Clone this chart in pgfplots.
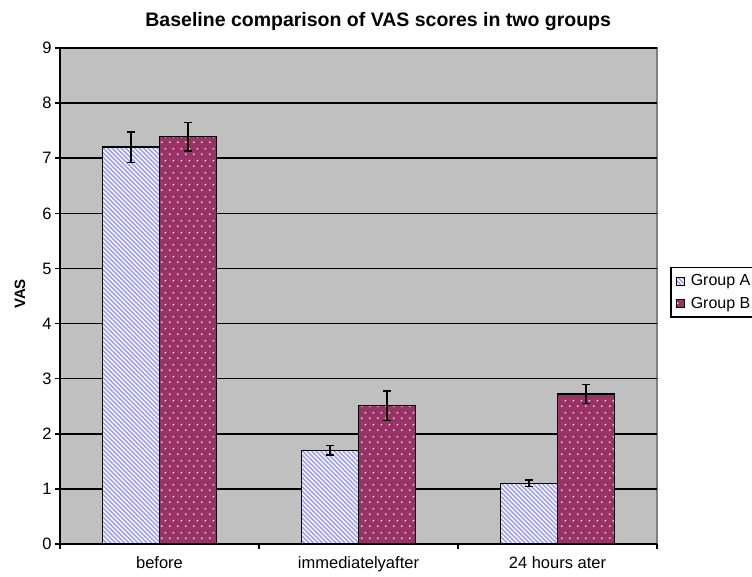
\documentclass[border=0pt]{standalone}
\usepackage{fontspec}
\setmainfont{Liberation Sans}
\usepackage{pgfplots}
\pgfplotsset{compat=1.18}
\usetikzlibrary{patterns}
\definecolor{bggray}{RGB}{192,192,192}
\definecolor{lav}{RGB}{160,160,248}
\definecolor{maroon}{RGB}{153,51,102}
\definecolor{dotc}{RGB}{240,215,232}
\pgfdeclarepatternformonly{nwl}{\pgfqpoint{-1pt}{-1pt}}{\pgfqpoint{5.5pt}{5.5pt}}{\pgfqpoint{4.5pt}{4.5pt}}{%
  \pgfsetlinewidth{1.5pt}%
  \pgfpathmoveto{\pgfqpoint{0pt}{4.5pt}}%
  \pgfpathlineto{\pgfqpoint{4.6pt}{-0.1pt}}%
  \pgfusepath{stroke}}
\pgfdeclarepatternformonly{sdots}{\pgfqpoint{0pt}{0pt}}{\pgfqpoint{8pt}{12pt}}{\pgfqpoint{8pt}{12pt}}{%
  \pgfpathcircle{\pgfqpoint{2pt}{3pt}}{1.1pt}%
  \pgfpathcircle{\pgfqpoint{6pt}{9pt}}{1.1pt}%
  \pgfusepath{fill}}
\pgfplotstableread{
x  a    aerr  b    berr
0  7.2  0.28  7.39 0.26
1  1.7  0.085 2.51 0.27
2  1.1  0.06  2.72 0.17
}\vasdata
\begin{document}
\begin{tikzpicture}[x=1pt,y=1pt]
\path[use as bounding box] (0,0) rectangle (752,576);
\begin{axis}[
  at={(60pt,32pt)}, anchor=south west,
  scale only axis, width=597pt, height=496pt,
  ybar=0pt, bar width=57pt,
  xmin=-0.5, xmax=2.5, ymin=0, ymax=9,
  ytick={0,1,2,3,4,5,6,7,8,9},
  xtick={-0.5,0.5,1.5,2.5}, xticklabels={},
  extra x ticks={0,1,2},
  extra x tick labels={before,immediatelyafter,24 hours ater},
  extra x tick style={major tick length=0pt, xticklabel style={yshift=-9pt}},
  axis x line*=bottom, axis y line*=left,
  axis line style={black, line width=1.5pt},
  tick align=outside, major tick length=5pt,
  tick style={black, line width=1.5pt},
  ymajorgrids, grid style={black, line width=1.5pt},
  axis background/.style={fill=bggray, draw=gray, line width=1.5pt},
  tick label style={font=\fontsize{16.5}{18}\selectfont},
  /pgf/number format/assume math mode=true,
  ylabel={VAS},
  ylabel style={at={(axis description cs:-0.067,0.504)}, anchor=center, font=\bfseries\fontsize{15}{18}\selectfont},
  title={Baseline comparison of VAS scores in two groups},
  title style={at={(axis description cs:0.533,1.042)}, anchor=center, font=\bfseries\fontsize{19.5}{22}\selectfont},
  legend style={at={(axis description cs:1.0218,0.5585)}, anchor=north west, draw=black, line width=1.5pt, fill=white,
    font=\fontsize{16}{18}\selectfont, row sep=6pt, inner sep=5pt,
    nodes={inner xsep=6pt}},
  legend cell align=left,
  legend image code/.code={\draw[#1, line width=1pt] (0pt,-4pt) rectangle (8pt,4pt);},
  error bars/error bar style={black, line width=1.5pt},
  error bars/error mark options={rotate=90, black, mark size=4pt, line width=1.5pt},
]
\addplot[draw=black, line width=1.5pt, fill=white, postaction={pattern=nwl, pattern color=lav},
  error bars/.cd, y dir=both, y explicit]
  table[x=x, y=a, y error=aerr] {\vasdata};
\addplot[draw=black, line width=1.5pt, fill=maroon, postaction={pattern=sdots, pattern color=dotc},
  error bars/.cd, y dir=both, y explicit]
  table[x=x, y=b, y error=berr] {\vasdata};
\legend{Group A, Group B}
\end{axis}
\end{tikzpicture}
\end{document}
